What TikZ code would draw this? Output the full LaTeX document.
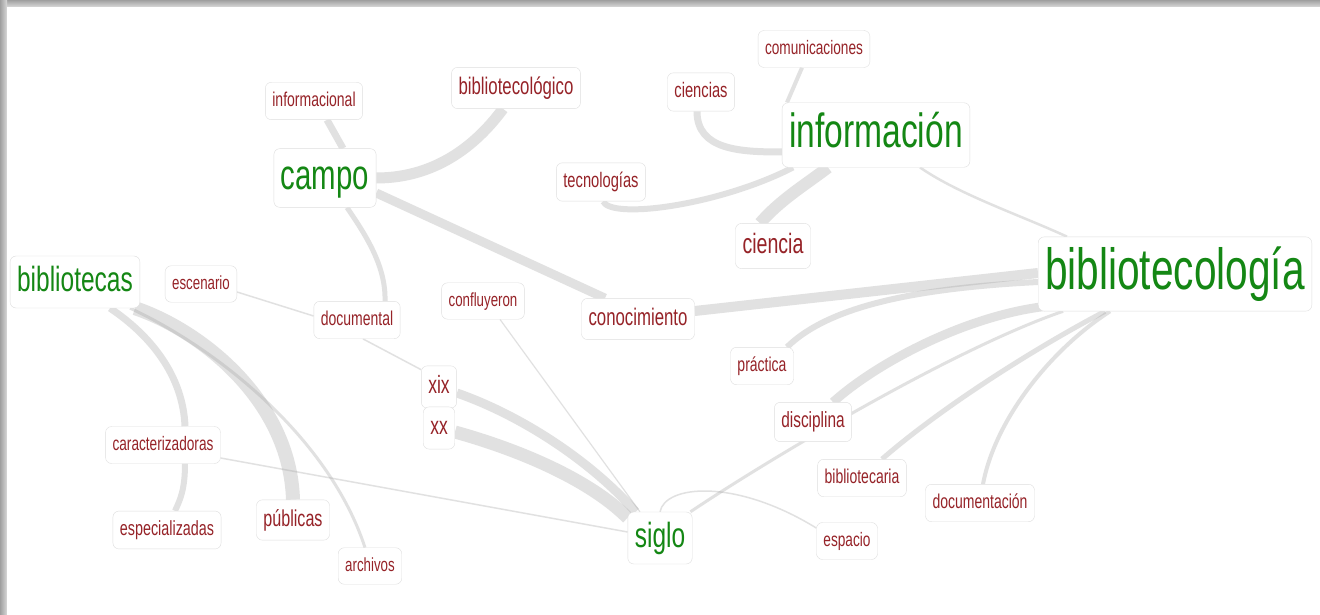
\documentclass[tikz,border=0pt]{standalone}
\usepackage{fontspec}
\newfontfamily\wordfont[FakeStretch=0.7]{Liberation Sans}
\usetikzlibrary{backgrounds}
\definecolor{wordgreen}{RGB}{20,135,20}
\definecolor{wordred}{RGB}{150,35,40}
\definecolor{linkgray}{RGB}{165,165,165}
\definecolor{boxline}{RGB}{222,222,222}

\begin{document}
\begin{tikzpicture}[x=1pt,y=-1pt,line join=round,line cap=round,
		word/.style={draw=boxline,fill=white,rounded corners=6pt,text=wordred,font=\wordfont\fontsize{#1}{#1}\selectfont,text height={0.75*#1pt},text depth={0.22*#1pt},inner xsep=7pt,inner ysep=9pt},
		hub/.style={word=#1,text=wordgreen},
		lnk/.style={draw=linkgray,draw opacity=.33,line width=#1pt}]
	\useasboundingbox (0,0) rectangle (1320,615);
	% green hubs
	\node[hub=42] (campo) at (325,178) {campo};
	\node[hub=48] (informacion) at (876,135) {información};
	\node[hub=58] (bibliotecologia) at (1175,274) {bibliotecología};
	\node[hub=35] (bibliotecas) at (75,282) {bibliotecas};
	\node[hub=35] (siglo) at (660,538) {siglo};
	% red words
	\node[word=20] (informacional) at (314,101) {informacional};
	\node[word=24] (bibliotecologico) at (516,88) {bibliotecológico};
	\node[word=19.5] (comunicaciones) at (814,49) {comunicaciones};
	\node[word=21] (ciencias) at (701,92) {ciencias};
	\node[word=21] (tecnologias) at (601,182) {tecnologías};
	\node[word=28] (ciencia) at (773,246) {ciencia};
	\node[word=19] (escenario) at (201,284) {escenario};
	\node[word=20] (documental) at (357,320) {documental};
	\node[word=19] (confluyeron) at (483,301) {confluyeron};
	\node[word=24] (conocimiento) at (638,319) {conocimiento};
	\node[word=20] (practica) at (762,366) {práctica};
	\node[word=25] (xix) at (439,387) {xix};
	\node[word=25] (xx) at (439,428) {xx};
	\node[word=22] (disciplina) at (813,422) {disciplina};
	\node[word=19.5] (caracterizadoras) at (163,445) {caracterizadoras};
	\node[word=20] (bibliotecaria) at (862,478) {bibliotecaria};
	\node[word=20] (documentacion) at (980,503) {documentación};
	\node[word=20.5] (especializadas) at (167,530) {especializadas};
	\node[word=23] (publicas) at (293,520) {públicas};
	\node[word=19.5] (espacio) at (847,541) {espacio};
	\node[word=19] (archivos) at (370,566) {archivos};
	\begin{scope}[on background layer]
		% frame
		\fill[white] (0,0) rectangle (1320,615);
		\shade[top color=gray!75,bottom color=gray!30] (0,0) rectangle (1320,7);
		\shade[left color=gray!75,right color=gray!30] (0,0) rectangle (7,615);
		\fill[white] (7,7) rectangle (1320,615);
		% links
		\draw[lnk=7] ([xshift=13]informacional.south) -- ([xshift=18]campo.north);
		\draw[lnk=11] (campo.east) .. controls (440,178) and (480,140) .. ([xshift=-13]bibliotecologico.south);
		\draw[lnk=9] ([yshift=-15]campo.east) -- ([xshift=-33]conocimiento.north);
		\draw[lnk=5] ([xshift=22]campo.south) .. controls (368,238) and (386,268) .. ([xshift=28]documental.north);
		\draw[lnk=7] ([xshift=-4]ciencias.south) .. controls (697,150) and (740,152) .. ([yshift=-17]informacion.west);
		\draw[lnk=4] ([xshift=-12]comunicaciones.south) -- ([xshift=-89]informacion.north);
		\draw[lnk=6] ([xshift=2]tecnologias.south) .. controls (612,220) and (720,205) .. ([xshift=-83]informacion.south);
		\draw[lnk=12] ([xshift=-13]ciencia.north) .. controls (780,200) and (805,185) .. ([xshift=-48]informacion.south);
		\draw[lnk=2.5] ([xshift=44]informacion.south) .. controls (960,195) and (1020,215) .. ([xshift=-108]bibliotecologia.north);
		\draw[lnk=10] ([yshift=8]conocimiento.east) -- ([yshift=1]bibliotecologia.west);
		\draw[lnk=6] ([xshift=25]practica.north) .. controls (830,305) and (920,288) .. ([yshift=-8]bibliotecologia.west);
		\draw[lnk=9] ([xshift=20]disciplina.north) .. controls (880,360) and (970,315) .. ([xshift=8,yshift=5]bibliotecologia.south west);
		\draw[lnk=3] ([xshift=-2]siglo.north east) .. controls (760,465) and (950,350) .. ([xshift=25]bibliotecologia.south west);
		\draw[lnk=5] ([xshift=20]bibliotecaria.north) .. controls (950,400) and (1050,340) .. ([xshift=-70]bibliotecologia.south);
		\draw[lnk=4] ([xshift=3]documentacion.north) .. controls (995,420) and (1050,350) .. ([xshift=-65]bibliotecologia.south);
		\draw[lnk=14] ([xshift=-5]bibliotecas.south east) .. controls (200,330) and (290,400) .. (publicas.north);
		\draw[lnk=7] ([xshift=35]bibliotecas.south) .. controls (150,335) and (183,375) .. ([xshift=22]caracterizadoras.north);
		\draw[lnk=6] ([xshift=22]caracterizadoras.south) .. controls (185,490) and (180,500) .. ([xshift=8]especializadas.north);
		\draw[lnk=3] ([xshift=-10]bibliotecas.south east) .. controls (220,350) and (330,440) .. ([xshift=-5]archivos.north);
		\draw[lnk=1.5] ([yshift=-8]escenario.east) -- ([yshift=4]documental.west);
		\draw[lnk=1.5] ([xshift=6]documental.south) -- ([yshift=-4]xix.north west);
		\draw[lnk=9] ([yshift=-6]xix.east) .. controls (520,415) and (590,460) .. ([xshift=8]siglo.north west);
		\draw[lnk=13] ([yshift=-4]xx.east) .. controls (520,450) and (590,480) .. ([yshift=-6]siglo.north west);
		\draw[lnk=1.2] ([xshift=17]confluyeron.south) -- ([xshift=-20]siglo.north);
		\draw[lnk=1.5] ([yshift=-13]caracterizadoras.east) -- ([yshift=6]siglo.west);
		\draw[lnk=1.5] (siglo.north) .. controls (665,485) and (735,478) .. ([yshift=13]espacio.west);
	\end{scope}
\end{tikzpicture}
\end{document}
